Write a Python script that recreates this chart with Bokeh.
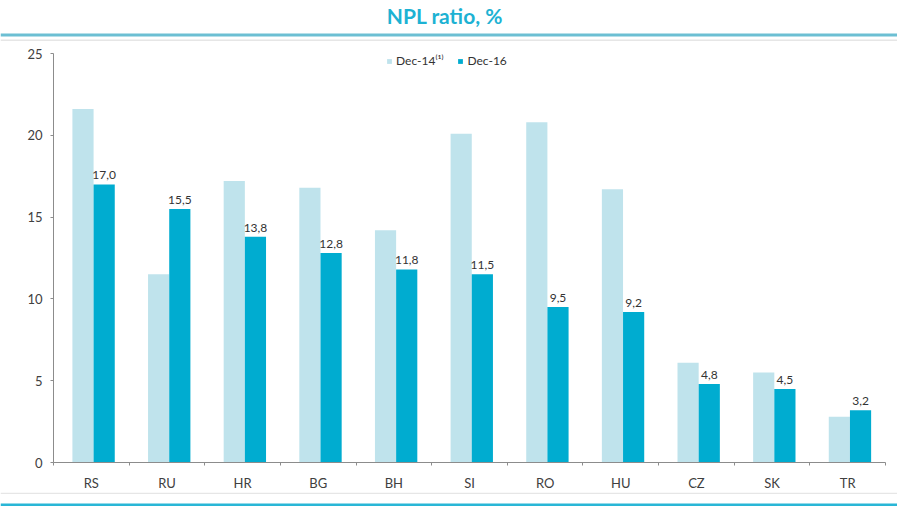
from bokeh.plotting import figure
from bokeh.models import Range1d, FixedTicker, ColumnDataSource, Legend, LegendItem
from bokeh.layouts import column
from bokeh.core.properties import value
from bokeh.embed import file_html
from bokeh.resources import INLINE

# ---- data ----
countries = ["RS", "RU", "HR", "BG", "BH", "SI", "RO", "HU", "CZ", "SK", "TR"]
dec14 = [21.6, 11.5, 17.2, 16.8, 14.2, 20.1, 20.8, 16.7, 6.1, 5.5, 2.8]
dec16 = [17.0, 15.5, 13.8, 12.8, 11.8, 11.5, 9.5, 9.2, 4.8, 4.5, 3.2]
y_ticks = [0, 5, 10, 15, 20, 25]
title_text = "NPL ratio,  %"
legend_labels = ["Dec-14\u207d\u00b9\u207e", "Dec-16"]

FONT = "Lato"
LIGHT = "#bfe3ec"
DARK = "#00acd0"
TITLE_COL = "#1db2d3"
W = 897
TOP_H, MAIN_H, BOT_H = 41, 451, 14
# axes box in page pixels
AX_L, AX_R = 53, 885
AX_T, AX_B = 53, 462
Y_MAX = 25

n = len(countries)
idx = list(range(n))
bar_w = 0.28
ppu_x = (AX_R - AX_L) / n
x_lo = -0.5 - AX_L / ppu_x
x_hi = n - 0.5 + (W - AX_R) / ppu_x
ppu_y = (AX_B - AX_T) / Y_MAX
y_lo = -(TOP_H + MAIN_H - AX_B) / ppu_y
y_hi = Y_MAX + (AX_T - TOP_H) / ppu_y

src = ColumnDataSource(dict(
    x14=[i - 0.11 for i in idx],
    x16=[i + 0.17 for i in idx],
    d14=dec14,
    d16=dec16,
    lab=[f"{v:.1f}".replace(".", ",") for v in dec16],
))

# ---- top band: title + lines ----
top = figure(width=W, height=TOP_H, x_range=Range1d(0, W), y_range=Range1d(0, TOP_H),
             toolbar_location=None, output_backend="svg", min_border=0)
top.axis.visible = False
top.grid.visible = False
top.outline_line_color = None
top.text(x=[447], y=[TOP_H - 15], text=[title_text], text_font=value(FONT),
         text_font_style="bold", text_font_size="21px", text_color=TITLE_COL,
         text_align="center", text_baseline="middle")
top.line(x=[0, W], y=[TOP_H - 34.5] * 2, line_color="#6cbfd3", line_width=3)
top.line(x=[0, W], y=[TOP_H - 39.8] * 2, line_color="#e6e6e6", line_width=1.6)

# ---- main chart ----
p = figure(width=W, height=MAIN_H, x_range=Range1d(x_lo, x_hi),
           y_range=Range1d(y_lo, y_hi), toolbar_location=None, output_backend="svg",
           min_border=0)
p.grid.visible = False
p.outline_line_color = None

r14 = p.vbar(x="x14", top="d14", width=bar_w, source=src, fill_color=LIGHT, line_color=None)
r16 = p.vbar(x="x16", top="d16", width=bar_w, source=src, fill_color=DARK, line_color=None)
p.text(x="x16", y="d16", text="lab", source=src, text_font=value(FONT),
       text_font_size="12px", text_color="#333333", text_align="center",
       text_baseline="alphabetic", y_offset=-9)

xa = p.xaxis[0]
xa.fixed_location = 0
xa.ticker = FixedTicker(ticks=idx, minor_ticks=[i - 0.5 for i in range(n + 1)])
xa.bounds = (-0.5, n - 0.5)
xa.major_label_overrides = {i: c for i, c in zip(idx, countries)}
xa.major_tick_out = 0
xa.major_tick_in = 0
xa.minor_tick_out = 3
xa.minor_tick_in = 0
xa.axis_line_color = "#8c8c8c"
xa.minor_tick_line_color = "#8c8c8c"
xa.major_label_standoff = 9
xa.major_label_text_font = FONT
xa.major_label_text_font_size = "13px"
xa.major_label_text_color = "#404040"

ya = p.yaxis[0]
ya.fixed_location = -0.5
ya.bounds = (0, Y_MAX)
ya.ticker = FixedTicker(ticks=y_ticks)
ya.major_tick_out = 3
ya.major_tick_in = 0
ya.minor_tick_out = 0
ya.minor_tick_in = 0
ya.axis_line_color = "#8c8c8c"
ya.major_tick_line_color = "#8c8c8c"
ya.major_label_standoff = 8
ya.major_label_text_font = FONT
ya.major_label_text_font_size = "13px"
ya.major_label_text_color = "#404040"

legend = Legend(items=[LegendItem(label=legend_labels[0], renderers=[r14]),
                       LegendItem(label=legend_labels[1], renderers=[r16])],
                orientation="horizontal", location=(386, 424),
                glyph_width=6, glyph_height=6, label_standoff=4, spacing=14,
                padding=0, margin=0, border_line_color=None,
                background_fill_alpha=0, label_text_font=FONT,
                label_text_font_size="12px", label_text_color="#333333")
p.add_layout(legend)

# ---- bottom band: lines ----
bot = figure(width=W, height=BOT_H, x_range=Range1d(0, W), y_range=Range1d(0, BOT_H),
             toolbar_location=None, output_backend="svg", min_border=0)
bot.axis.visible = False
bot.grid.visible = False
bot.outline_line_color = None
bot.line(x=[0, W], y=[13.3, 13.3], line_color="#e6e6e6", line_width=1.5)
bot.line(x=[0, W], y=[1.5, 1.5], line_color="#29b6d6", line_width=3)

layout = column(top, p, bot, spacing=0)
open("out.html", "w").write(file_html(layout, INLINE))
